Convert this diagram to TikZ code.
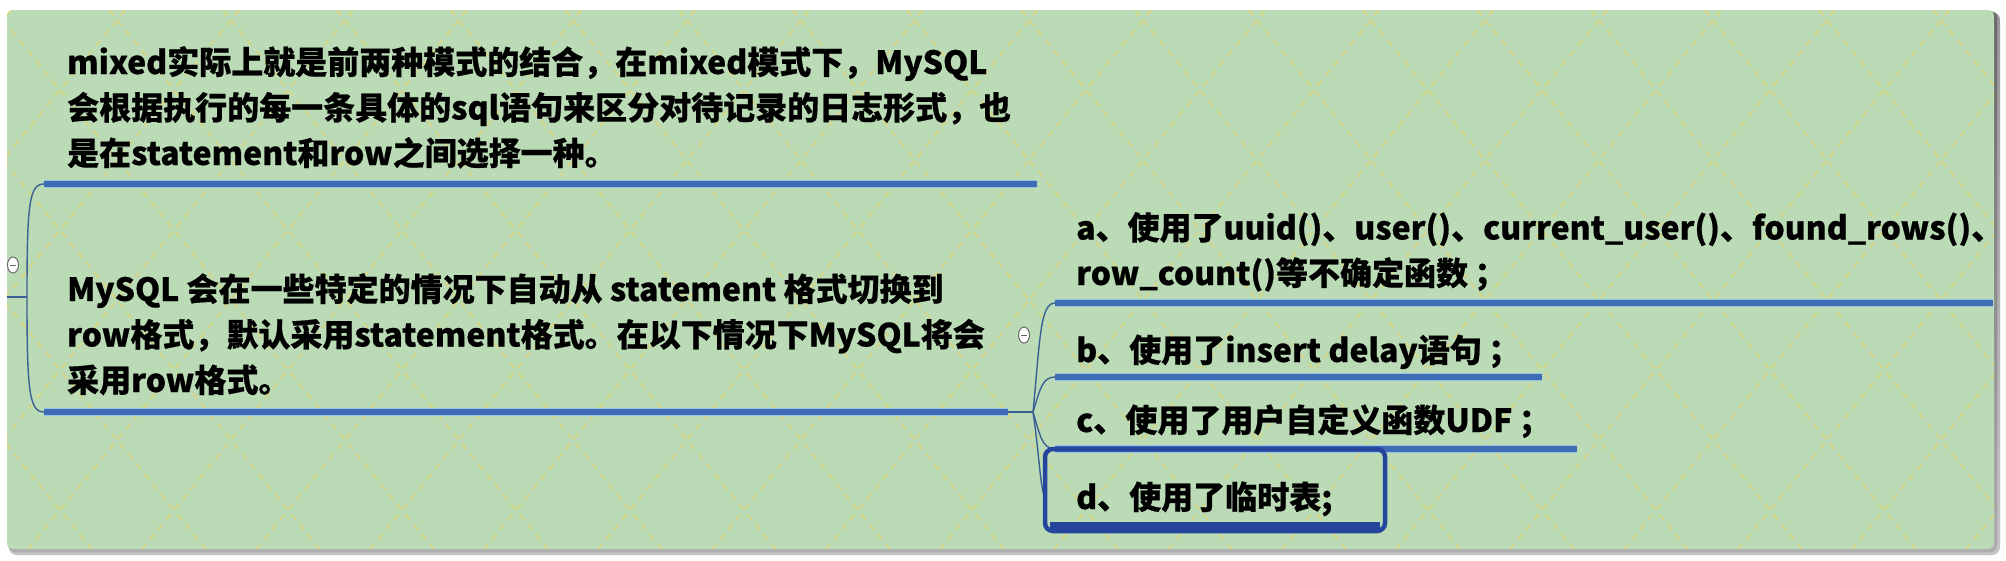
\documentclass[tikz,border=0pt]{standalone}
\usepackage{fontspec}
\setmainfont{Noto Sans CJK SC}[BoldFeatures={FakeBold=0.6}]
\definecolor{panel}{RGB}{186,219,182}
\definecolor{pat}{RGB}{214,214,132}
\definecolor{ulcore}{RGB}{62,108,180}
\definecolor{ulhalo}{RGB}{150,196,232}
\definecolor{conn}{RGB}{60,95,150}
\definecolor{selbox}{RGB}{38,70,158}
\definecolor{shade}{RGB}{200,200,200}
\begin{document}
\begin{tikzpicture}[x=1pt,y=-1pt,
  txt/.style={anchor=base west, inner sep=0pt, align=left,
    font=\fontsize{32}{45.5}\selectfont\bfseries},
  ul/.style={draw=ulhalo, line width=1.6pt, double=ulcore, double distance=5.4pt},
  connector/.style={draw=conn, line width=1.4pt},
  patline/.style={draw=pat, line width=1.7pt, dash pattern=on 7pt off 6pt},
  collapse/.style={draw=gray!80!black, fill=white, line width=1pt},
]
\useasboundingbox (0,0) rectangle (2006,560);
\fill[white] (0,0) rectangle (2006,560);
% shadow
\fill[shade, opacity=0.35, rounded corners=8] (9,12) rectangle (2000,555);
\fill[shade, opacity=0.45, rounded corners=7] (8,11) rectangle (1997,552);
% panel
\fill[panel, rounded corners=6] (7,10) rectangle (1994,549);
\begin{scope}
  \clip[rounded corners=6] (7,10) rectangle (1994,549);
  \foreach \k in {-5,...,22} {
    \draw[patline] (100.7+114*\k, 0) -- ++(456,560);
    \draw[patline] (19.3+114*\k, 0) -- ++(-456,560);
  }
\end{scope}

% key points
\coordinate (in) at (7,297);
\coordinate (L) at (27,297);
\coordinate (u1s) at (44,184);
\coordinate (u1e) at (1037,184);
\coordinate (u2s) at (44,412);
\coordinate (u2e) at (1008,412);
\coordinate (J) at (1033,412);
\coordinate (uas) at (1055,303);
\coordinate (uae) at (1993,303);
\coordinate (ubs) at (1055,377);
\coordinate (ube) at (1542,377);
\coordinate (ucs) at (1055,449);
\coordinate (uce) at (1577,449);
\coordinate (dl) at (1046,500);

% left connectors
\draw[connector] (in) -- (L);
\draw[connector] (L) .. controls (27,205) and (29,184) .. (u1s);
\draw[connector] (L) .. controls (27,390) and (29,412) .. (u2s);

% right connectors
\draw[connector] (u2e) -- (J);
\draw[connector] (J) .. controls (1040,340) and (1040,303) .. (uas);
\draw[connector] (J) .. controls (1040,390) and (1042,377) .. (ubs);
\draw[connector] (J) .. controls (1040,435) and (1042,449) .. (ucs);
\draw[connector] (J) .. controls (1040,460) and (1040,490) .. (dl);

% underlines
\draw[ul] (u1s) -- (u1e);
\draw[ul] (u2s) -- (u2e);
\draw[ul] (uas) -- (uae);
\draw[ul] (ubs) -- (ube);
\draw[ul] (ucs) -- (uce);

% selected box d
\draw[selbox, line width=8pt] (1050,526) -- (1380,526);
\draw[selbox, line width=4.5pt, rounded corners=8] (1045,449) rectangle (1385,531);

% collapse buttons
\draw[collapse] (13,265) ellipse [x radius=5.5, y radius=8];
\draw[gray!80!black, line width=1pt] (10,265) -- (16,265);
\draw[collapse] (1024,335) ellipse [x radius=5.5, y radius=8];
\draw[gray!80!black, line width=1pt] (1021,335) -- (1027,335);

% texts (base anchor = baseline of the last line)
\node[txt] (t1) at (67,165) {mixed实际上就是前两种模式的结合，在mixed模式下，MySQL\\会根据执行的每一条具体的sql语句来区分对待记录的日志形式，也\\是在statement和row之间选择一种。};
\node[txt] (t2) at (67,392) {MySQL 会在一些特定的情况下自动从 statement 格式切换到\\row格式，默认采用statement格式。在以下情况下MySQL将会\\采用row格式。};
\node[txt] (a) at (1076,285) {a、使用了uuid()、user()、current\_user()、found\_rows()、\\row\_count()等不确定函数\hspace{0.2em}；};
\node[txt] (b) at (1076,362) {b、使用了insert delay语句\hspace{0.2em}；};
\node[txt] (c) at (1076,432) {c、使用了用户自定义函数UDF\hspace{0.2em}；};
\node[txt] (d) at (1076,509) {d、使用了临时表;};
\end{tikzpicture}
\end{document}
